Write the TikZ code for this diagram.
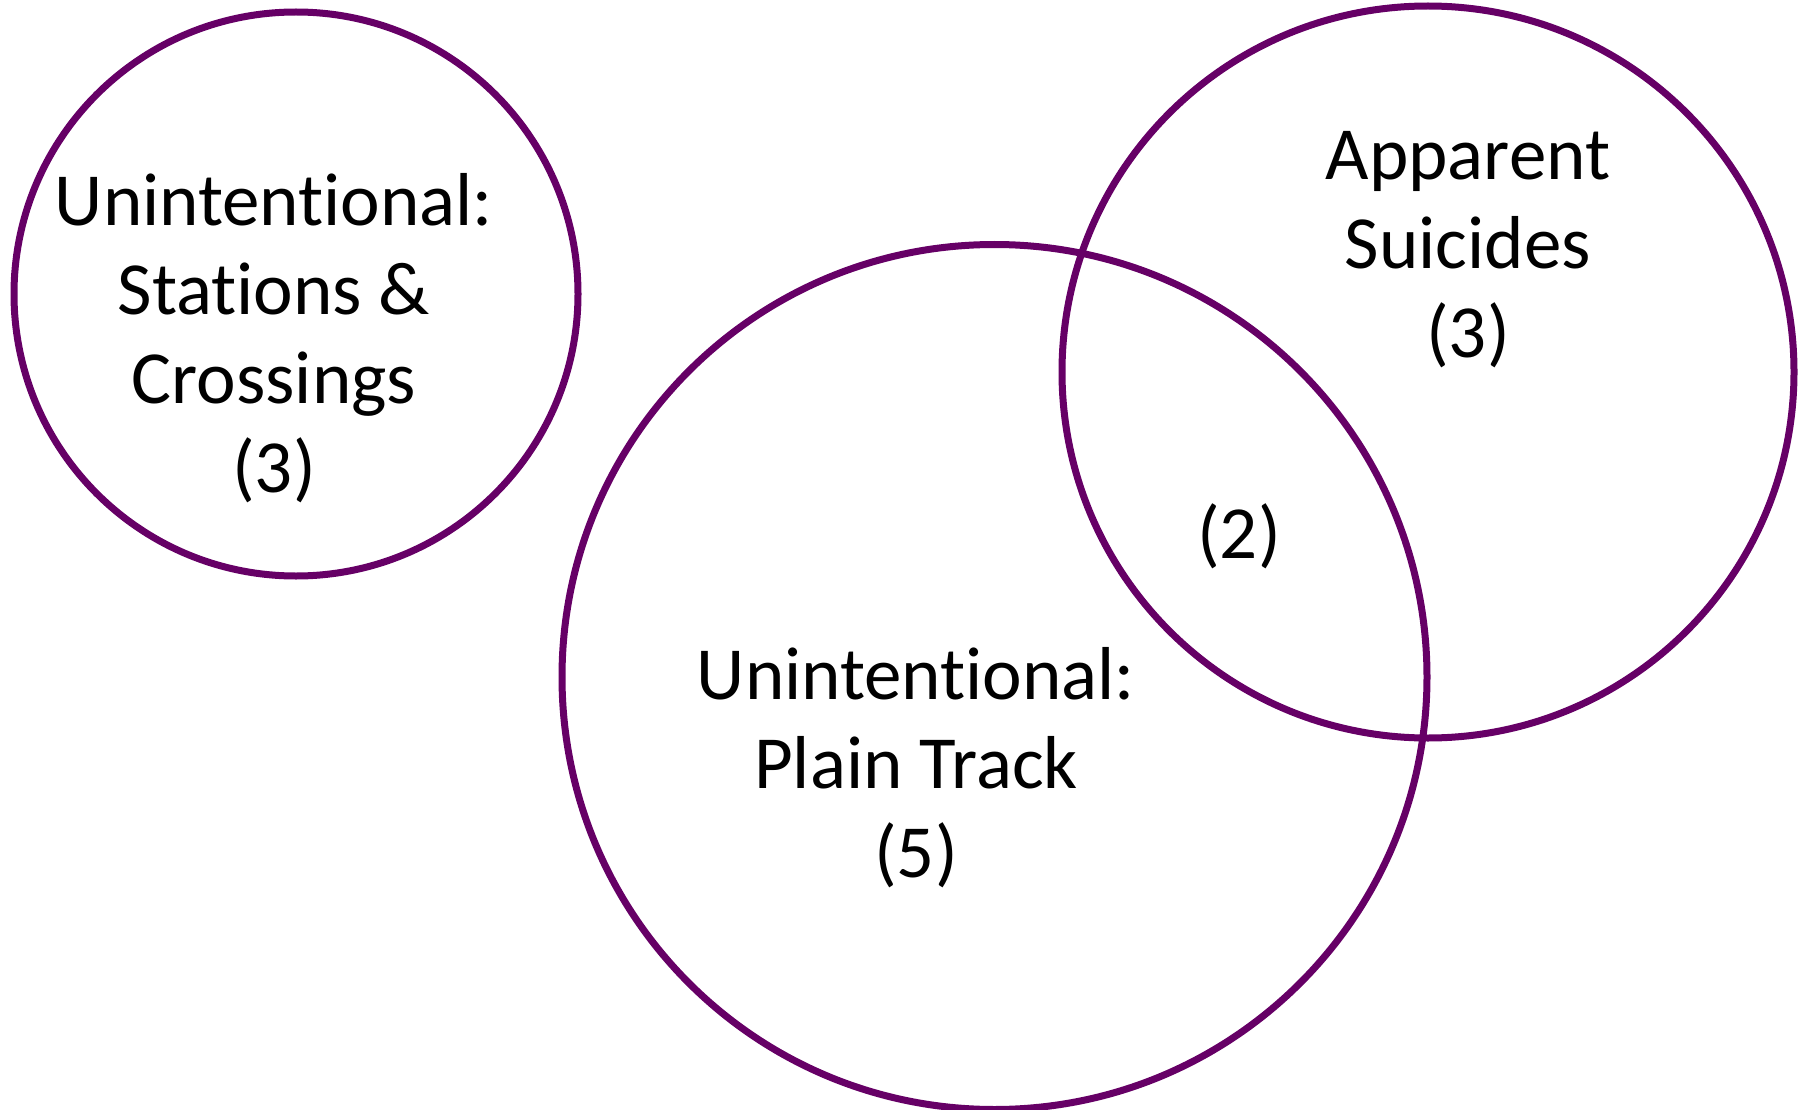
\documentclass[tikz,border=0pt]{standalone}
\usepackage{fontspec}
\setmainfont{Carlito}[Ligatures=NoCommon]
\definecolor{vennpurple}{RGB}{102,0,102}
\tikzset{
  set/.style={circle, draw=vennpurple, line width=7pt, inner sep=0pt},
  lbl/.style={align=center, inner sep=0pt, font=\fontsize{75}{89}\selectfont}
}

\begin{document}
\begin{tikzpicture}[x=1pt,y=-1pt]
        \useasboundingbox (0,0) rectangle (1805,1110);
        \node (stations) [set, minimum size=564pt] at (296,294) {};
        \node (plain) [set, minimum size=865pt] at (994.5,677) {};
        \node (suicide) [set, minimum size=732pt] at (1428,372) {};
        \node (stationstext) [lbl] at (274,338) {Unintentional:\\Stations \&\\Crossings\\(3)};
        \node (plaintext) [lbl] at (916,767.5) {Unintentional:\\Plain Track\\(5)};
        \node (suicidetext) [lbl] at (1468,249.5) {Apparent\\Suicides\\(3)};
        \node (both) [lbl] at (1239,536) {(2)};
      \end{tikzpicture}
\end{document}
